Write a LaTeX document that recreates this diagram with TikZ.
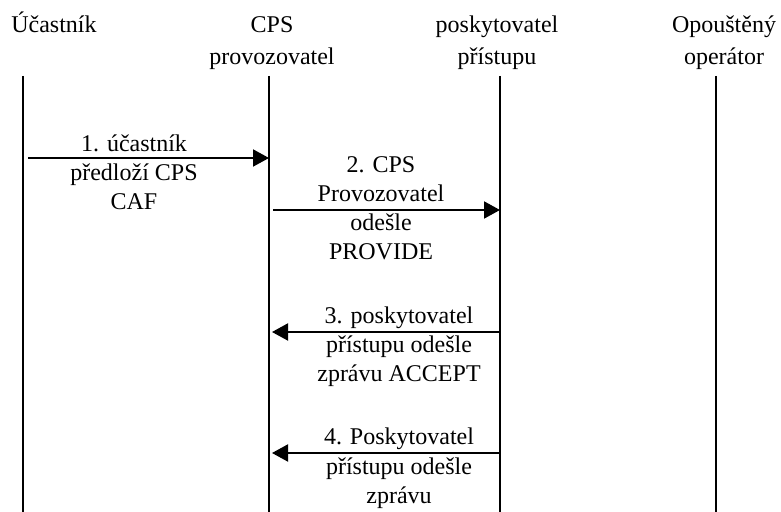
\documentclass[tikz,border=0pt]{standalone}
\usepackage{fontspec}
\setmainfont{Liberation Serif}
\usetikzlibrary{arrows.meta}

\begin{document}
\begin{tikzpicture}[x=0.5pt, y=-0.5pt,
    lifeline/.style={line width=1pt},
    msg/.style={line width=1pt, -{Triangle[length=8pt, width=8.5pt]}},
    actor/.style={align=center, inner sep=0pt, anchor=base,
        font=\fontsize{12}{16}\selectfont},
    msgtext/.style={align=center, inner sep=0pt, anchor=base,
        font=\fontsize{12}{14.5}\selectfont}]
    \useasboundingbox (0,0) rectangle (781,512);

    % lifelines
    \coordinate (U) at (23, 76);
    \coordinate (C) at (269, 76);
    \coordinate (P) at (500, 76);
    \coordinate (O) at (716, 76);
    \coordinate (Ub) at (23, 512);
    \coordinate (Cb) at (269, 512);
    \coordinate (Pb) at (500, 512);
    \coordinate (Ob) at (716, 512);

    \draw[lifeline] (U) -- (Ub);
    \draw[lifeline] (C) -- (Cb);
    \draw[lifeline] (P) -- (Pb);
    \draw[lifeline] (O) -- (Ob);

    % message ends
    \coordinate (m1s) at (28, 158);
    \coordinate (m1e) at (269, 158);
    \coordinate (m2s) at (273, 210);
    \coordinate (m2e) at (500, 210);
    \coordinate (m3s) at (500, 332);
    \coordinate (m3e) at (272, 332);
    \coordinate (m4s) at (500, 453);
    \coordinate (m4e) at (272, 453);

    \draw[msg] (m1s) -- (m1e);
    \draw[msg] (m2s) -- (m2e);
    \draw[msg] (m3s) -- (m3e);
    \draw[msg] (m4s) -- (m4e);

    % base = last line
    \node[actor] (u) at (54, 33) {Účastník};
    \node[actor] (c) at (272, 65) {CPS\\provozovatel};
    \node[actor] (p) at (497, 65) {poskytovatel\\přístupu};
    \node[actor] (o) at (724, 65) {Opouštěný\\operátor};

    \node[msgtext] (t1) at (134, 210) {1. účastník\\předloží CPS\\CAF};
    \node[msgtext] (t2) at (381, 260) {2. CPS\\Provozovatel\\odešle\\PROVIDE};
    \node[msgtext] (t3) at (399, 382) {3. poskytovatel\\přístupu odešle\\zprávu ACCEPT};
    \node[msgtext] (t4) at (399, 503) {4. Poskytovatel\\přístupu odešle\\zprávu};
\end{tikzpicture}
\end{document}
